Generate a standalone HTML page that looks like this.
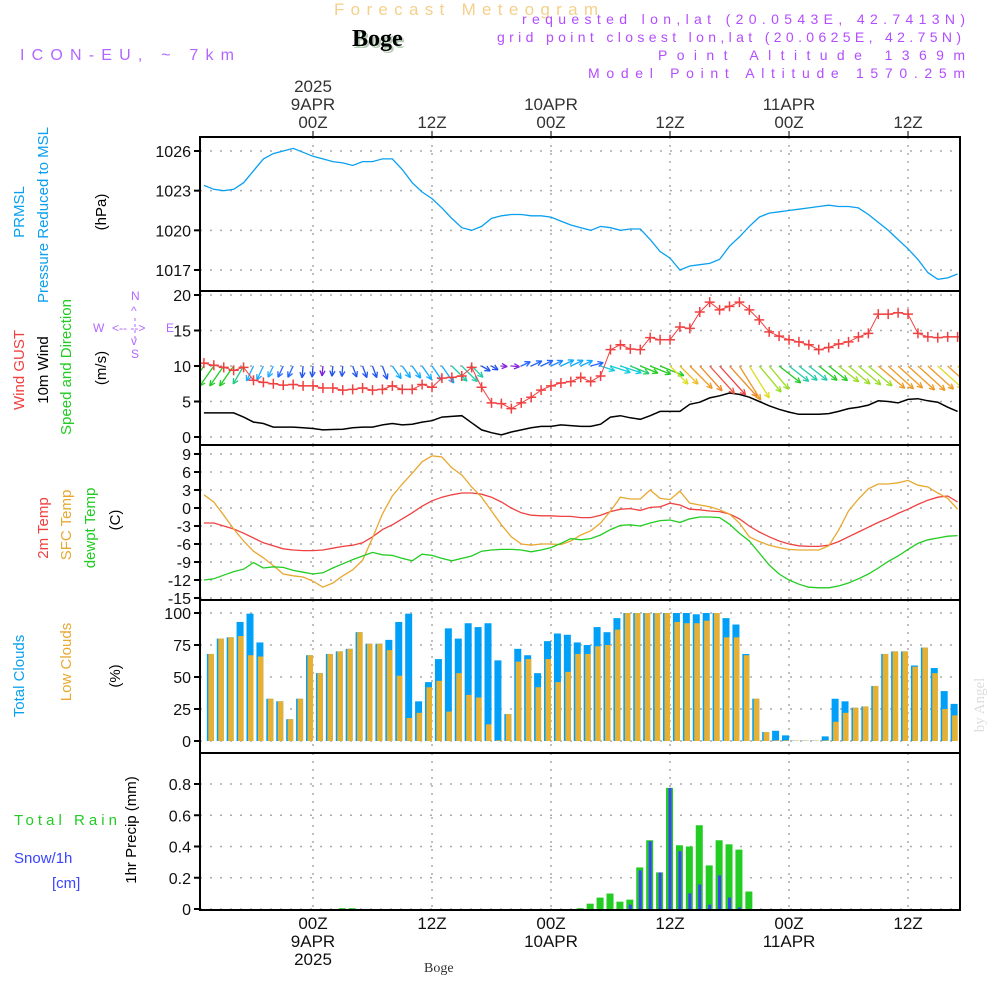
<!DOCTYPE html>
<html><head><meta charset="utf-8"><style>
html,body{margin:0;padding:0;background:#fff;}
svg{display:block;font-family:"Liberation Sans",sans-serif;}
</style></head><body>
<svg id="chart" width="1000" height="1000" viewBox="0 0 1000 1000" xmlns="http://www.w3.org/2000/svg">
<defs><clipPath id="plotclip"><rect x="200" y="137" width="760" height="773"/></clipPath></defs>
<g id="header">
<text x="334" y="15" font-size="17" fill="#f5d08a" textLength="264">Forecast Meteogram</text>
<text x="354" y="48" font-size="24" font-weight="bold" font-family="Liberation Serif,serif" fill="#b8cdb8">Boge</text>
<text x="352" y="46" font-size="24" font-weight="bold" font-family="Liberation Serif,serif" fill="#000">Boge</text>
<text x="20" y="60" font-size="16" fill="#b266ff" textLength="214">ICON-EU, ~ 7km</text>
<text x="522" y="24" font-size="14" fill="#b34dff" textLength="443">requested lon,lat (20.0543E, 42.7413N)</text>
<text x="497" y="42" font-size="14" fill="#b34dff" textLength="464">grid point closest lon,lat (20.0625E, 42.75N)</text>
<text x="658" y="60" font-size="14" fill="#b34dff" textLength="307">Point Altitude 1369m</text>
<text x="588" y="78" font-size="14" fill="#b34dff" textLength="377">Model Point Altitude 1570.25m</text>
</g>
<g id="grid"></g>
<g id="marks" clip-path="url(#plotclip)"></g>
<g id="frames"></g>
<g id="labels"></g>
</svg>
<script>
// ---- data (hourly, hours relative to 00Z 9 APR) ----
const hours = [];
for (let h = -11; h <= 65; h++) hours.push(h);
const pressure = [1023.4,1023.1,1023.0,1023.1,1023.6,1024.5,1025.4,1025.8,1026.0,1026.2,1025.9,1025.6,1025.4,1025.2,1025.1,1024.9,1025.2,1025.2,1025.4,1025.4,1024.6,1023.6,1022.9,1022.4,1021.7,1020.9,1020.2,1020.0,1020.3,1020.9,1021.1,1021.2,1021.2,1021.1,1021.1,1021.0,1020.7,1020.4,1020.2,1020.0,1020.3,1020.2,1020.0,1020.1,1020.1,1019.3,1018.4,1017.9,1017.0,1017.3,1017.4,1017.5,1017.8,1018.8,1019.5,1020.3,1021.0,1021.3,1021.4,1021.5,1021.6,1021.7,1021.8,1021.9,1021.8,1021.8,1021.7,1021.2,1020.6,1020.0,1019.3,1018.6,1017.8,1016.8,1016.3,1016.4,1016.7];
const gust = [10.4,10.1,9.8,9.4,9.8,8.0,7.7,7.5,7.3,7.4,7.2,7.2,6.9,6.9,6.6,6.7,6.9,6.6,6.7,7.2,6.7,6.7,7.4,7.0,8.3,8.4,8.6,9.8,7.0,4.8,4.7,4.0,4.8,5.6,6.6,7.2,7.6,7.8,8.4,7.8,8.6,12.3,13.0,12.4,12.3,14.0,13.7,13.7,15.5,15.3,17.6,19.0,17.9,18.4,19.0,17.9,16.5,14.8,14.2,13.7,13.4,13.0,12.3,12.6,13.1,13.4,14.1,14.6,17.3,17.3,17.5,17.3,14.6,14.1,14.0,14.1,14.1];
const wind = [3.4,3.4,3.4,3.4,2.8,2.1,1.9,1.4,1.4,1.4,1.3,1.2,1.0,1.05,1.1,1.3,1.4,1.4,1.7,1.9,1.7,1.8,2.1,2.3,2.8,2.9,3.0,2.0,1.0,0.6,0.3,0.7,1.0,1.3,1.5,1.5,1.7,1.6,1.5,1.5,1.8,2.8,3.0,2.7,2.5,3.0,3.6,3.6,3.6,4.6,4.9,5.5,5.8,6.2,6.0,5.6,5.0,4.4,3.9,3.5,3.2,3.2,3.2,3.3,3.6,4.0,4.2,4.5,5.1,5.0,4.8,5.3,5.4,5.1,4.9,4.2,3.6];
const windDir = [125,125,125,125,120,115,115,115,115,115,95,95,95,95,95,70,70,70,70,55,55,55,55,55,55,45,45,45,30,30,5,5,-25,-25,-25,-25,-25,-25,-25,-15,18,18,18,22,22,22,22,45,45,45,48,48,48,48,58,58,50,50,38,38,38,38,38,38,38,40,40,40,40,42,42,42,42,42,42,42,42];
const t2m = [-2.5,-2.5,-3,-3.5,-4.2,-5,-5.8,-6.3,-6.8,-7,-7.1,-7.1,-7,-6.7,-6.4,-6.2,-5.8,-4.8,-3.6,-2.8,-1.8,-0.8,0.3,1.2,1.8,2.2,2.5,2.5,2.3,1.8,1.0,0,-0.8,-1.2,-1.3,-1.3,-1.4,-1.4,-1.6,-1.6,-1.2,-0.6,-0.2,-0.1,-0.4,0.1,0.2,0.8,0.5,-0.2,-0.3,-0.5,-0.6,-1.0,-1.8,-3.0,-4.0,-4.8,-5.5,-6.0,-6.3,-6.4,-6.4,-6.2,-5.6,-4.8,-4.0,-3.2,-2.4,-1.7,-0.9,-0.2,0.6,1.3,1.8,2.0,1.0];
const tsfc = [2.2,1.0,-1.2,-3.5,-5.5,-7.2,-8.3,-9.6,-11,-11.3,-11.5,-12.2,-13.2,-12.5,-11.3,-10.3,-8.7,-5,-1,2,4,5.8,7.7,8.7,8.5,6.7,5.5,3.5,1.8,-0.5,-2.8,-4.8,-6,-6.2,-6.0,-6.0,-6.1,-5.5,-4.5,-3.8,-2.5,-0.5,1.8,1.5,1.5,3.0,1.6,1.4,2.8,0.8,0.5,0.2,-0.3,-1,-2.5,-4.8,-5.6,-6.2,-6.6,-6.9,-7,-7,-7,-6.3,-3.7,-0.5,1.5,3.2,4.0,4.0,4.2,4.6,3.8,3.5,2.5,1.6,-0.2];
const tdew = [-12,-11.8,-11.2,-10.6,-10.2,-9.1,-10,-9.8,-9.9,-10.4,-10.7,-11,-10.8,-10.0,-9.3,-8.6,-8,-7.4,-7.8,-7.9,-8.4,-8.8,-7.7,-7.9,-8.4,-8.8,-8.4,-8.0,-7.2,-7.0,-6.9,-6.9,-7.0,-7.3,-7.0,-6.6,-5.9,-5.1,-5.3,-5.1,-4.5,-3.6,-2.9,-2.8,-3.0,-2.5,-2.1,-2.0,-2.4,-1.8,-1.5,-1.5,-1.6,-2.7,-4.2,-5.5,-7.5,-9.5,-11,-12,-12.7,-13.2,-13.3,-13.3,-13.0,-12.5,-11.8,-11,-10,-8.9,-8,-6.9,-5.9,-5.3,-5.0,-4.7,-4.6];
const cloudTotal = [67,68,80,81,93,99.5,77,33,31,17,33,67,53,68,70,72,85,76,76,79,93,99.5,31,46,64,88,80,92,89,92,63,21,72,67,53,78,84,83,77,75,89,85,96,100,100,100,100,100,100,100,99,100,100,96,91,68,33,7,8,4.4,0.3,0.3,0.3,3.6,33,31,26,27,43,68,70,70,59,73,57,39,29];
const cloudLow = [67,68,80,81,82,67,66,33,31,17,33,67,53,68,70,72,85,76,76,71,51,18,22,42,47,23,53,36,34,13,0.5,21,62,64,42,64,46,54,68,68,74,75,87,100,100,100,100,100,93,92,92,94,100,81,81,67,33,7,0.5,0.5,0.3,0.3,0.3,0.5,15,22,26,27,43,68,70,70,58,73,53,25,20];
const precipRain = [0,0,0,0,0,0,0,0,0,0,0,0,0,0,0.005,0.005,0,0,0,0,0,0,0,0,0,0,0,0,0,0,0,0,0,0,0,0,0,0,0.005,0.034,0.073,0.099,0.047,0.06,0.266,0.44,0.234,0.775,0.408,0.40,0.536,0.279,0.44,0.414,0.38,0.112,0,0,0,0,0,0,0,0,0,0,0,0,0,0,0,0,0,0,0,0,0];
const precipSnow = [0,0,0,0,0,0,0,0,0,0,0,0,0,0,0,0,0,0,0,0,0,0,0,0,0,0,0,0,0,0,0,0,0,0,0,0,0,0,0,0,0,0,0,0.028,0.247,0.434,0.234,0.775,0.37,0.1,0.157,0.028,0.215,0.073,0.01,0,0,0,0,0,0,0,0,0,0,0,0,0,0,0,0,0,0,0,0,0,0];
const pressureTicks = [1026,1023,1020,1017];
const windTicks = [20,15,10,5,0];
const tempTicks = [9,6,3,0,-3,-6,-9,-12,-15];
const cloudTicks = [100,75,50,25,0];
const precipTicks = [0.8,0.6,0.4,0.2,0];
const majorHours = [0,12,24,36,48,60];
const majorLabels = ['00Z','12Z','00Z','12Z','00Z','12Z'];
const dayLabels = {0:['9APR','2025'],24:['10APR'],48:['11APR']};
// arrow colors (style)
const arrowColors = ['#22cc22','#22cc22','#22cc22','#22cc22','#22cc88','#22aaff','#22aaff','#22aaff','#2266ff','#2266ff','#2255ee','#2255ee','#7722dd','#2255ee','#2255ee','#2255ee','#2255ee','#2255ee','#2255ee','#11aaff','#11aaff','#11aaff','#11aaff','#11aaff','#11aaff','#22ccaa','#22ccaa','#22ccaa','#2255ee','#2255ee','#8822dd','#8822dd','#2266ff','#2266ff','#2266ff','#2288ff','#11aaff','#11aaff','#11aaff','#2266ff','#11ccdd','#11ccdd','#11ccdd','#22cc66','#22cc22','#22cc22','#22cc22','#dddd22','#eebb22','#ee9922','#ee8822','#ee5544','#ee4444','#ee8822','#ee9922','#dddd22','#99dd22','#99dd22','#22cc22','#22ccaa','#22ccaa','#22ccaa','#22cc22','#22cc22','#99dd22','#99dd22','#99dd22','#99dd22','#ee9922','#ee9922','#ee9922','#ee9922','#ee9922','#ee9922','#dddd22','#ee9922','#dddd22'];

// ---- layout ----
const NS = 'http://www.w3.org/2000/svg';
const X0 = 200, X1 = 960;
const xh = h => 313 + h * 9.917;
function lin(v0, y0, v1, y1) { return v => y0 + (v - v0) * (y1 - y0) / (v1 - v0); }
const yP = lin(1026, 151, 1017, 270);
const yW = lin(20, 295, 0, 437);
const yT = lin(9, 454, -12, 580);
const yC = lin(100, 613, 0, 741);
const yR = lin(0.8, 784, 0, 909);
const panels = [[137,291],[291,445],[445,600],[600,753],[753,910]];
function mk(tag, attrs, parent) {
  const e = document.createElementNS(NS, tag);
  for (const k in attrs) e.setAttribute(k, attrs[k]);
  parent.appendChild(e); return e;
}
const gGrid = document.getElementById('grid'), gMarks = document.getElementById('marks');
const gFrames = document.getElementById('frames'), gLab = document.getElementById('labels');

majorHours.forEach(h => {
  panels.forEach(p => {
    const l = mk('line', {x1: xh(h), x2: xh(h), y1: p[0], y2: p[1], stroke: '#aaa', 'stroke-width': 1.5, 'stroke-dasharray': '2,6'}, gGrid);
    
    
  });
});
function yAxis(ticks, f, fmt) {
  ticks.forEach(t => {
    const y = f(t);
    const l = mk('line', {x1: X0, x2: X1, y1: y, y2: y, stroke: '#aaa', 'stroke-width': 1.5, 'stroke-dasharray': '2,8'}, gGrid);
    
    
    const tk = mk('line', {x1: X0 - 6, x2: X0, y1: y, y2: y, stroke: '#000', 'stroke-width': 2}, gFrames);
    
    
    const tx = mk('text', {x: X0 - 9, y: y + 6, 'text-anchor': 'end', 'font-size': 16, fill: '#111'}, gLab);
    tx.textContent = fmt ? fmt(t) : String(t);
    
    
  });
}
yAxis(pressureTicks, yP);
yAxis(windTicks, yW);
yAxis(tempTicks, yT);
yAxis(cloudTicks, yC);
yAxis(precipTicks, yR, t => t === 0 ? '0' : String(t));

function polyline(vals, f, color, name, w) {
  const pts = vals.map((v, i) => xh(hours[i]).toFixed(1) + ',' + f(v).toFixed(1)).join(' ');
  const p = mk('polyline', {points: pts, fill: 'none', stroke: color, 'stroke-width': w || 1.3}, gMarks);
  
  
}
polyline(pressure, yP, '#0aa0f0', 'pressure-line');
cloudTotal.forEach((v, i) => {
  const x = xh(hours[i]);
  if (x - 7 < X0 - 1 || x > X1) return;
  const b = mk('rect', {x: x - 7, y: yC(v), width: 7, height: yC(0) - yC(v), fill: '#00a0f8'}, gMarks);
  
  
  const lv = cloudLow[i];
  const o = mk('rect', {x: x - 5.5, y: yC(lv), width: 5.5, height: yC(0) - yC(lv), fill: '#e8b030'}, gMarks);
  
  
});
precipRain.forEach((v, i) => {
  const x = xh(hours[i]);
  if (v > 0) {
    const b = mk('rect', {x: x - 4, y: yR(v), width: 7, height: yR(0) - yR(v), fill: '#22cc22'}, gMarks);
    
    
  }
  const s = precipSnow[i];
  if (s > 0) {
    const sb = mk('rect', {x: x - 1.5, y: yR(s), width: 3, height: yR(0) - yR(s), fill: '#3a44ff'}, gMarks);
    
    
  }
});
polyline(t2m, yT, '#f04040', 't2m-line');
polyline(tsfc, yT, '#e8a830', 'sfc-temp-line');
polyline(tdew, yT, '#22cc22', 'dewpoint-line');
polyline(wind, yW, '#000', 'wind-speed-line', 1.5);
wind.forEach((v, i) => {
  const x = xh(hours[i]), y = yW(10);
  const a = windDir[i] * Math.PI / 180, L = 4 + 6 * v;
  const x2 = x + L * Math.cos(a), y2 = y + L * Math.sin(a);
  const c = arrowColors[i];
  const g = mk('g', {stroke: c, 'stroke-width': 1.3, fill: 'none'}, gMarks);
  
  
  mk('line', {x1: x, y1: y, x2: x2, y2: y2}, g);
  const hl = 6;
  [a + Math.PI - 0.45, a + Math.PI + 0.45].forEach(b => mk('line', {x1: x2, y1: y2, x2: x2 + hl * Math.cos(b), y2: y2 + hl * Math.sin(b)}, g));
});
polyline(gust, yW, '#f04040', 'gust-line', 1);
gust.forEach((v, i) => {
  const x = xh(hours[i]), y = yW(v);
  const p = mk('path', {d: `M${x-5},${y}H${x+5}M${x},${y-5}V${y+5}`, stroke: '#f04040', 'stroke-width': 1.5}, gMarks);
  
  
});
panels.forEach(p => {
  const r = mk('rect', {x: X0, y: p[0], width: X1 - X0, height: p[1] - p[0], fill: 'none', stroke: '#000', 'stroke-width': 2}, gFrames);
  
  
});
majorHours.forEach((h, k) => {
  const x = xh(h);
  const t1 = mk('line', {x1: x, x2: x, y1: 131, y2: 137, stroke: '#000'}, gFrames);
  
  
  const top = [majorLabels[k]].concat(dayLabels[h] ? dayLabels[h].slice(0,1) : []).concat(dayLabels[h] && dayLabels[h][1] ? [dayLabels[h][1]] : []);
  top.forEach((s, j) => {
    const t = mk('text', {x: x, y: 128 - j * 18, 'text-anchor': 'middle', 'font-size': 17, fill: '#333'}, gLab);
    t.textContent = s;
    
    
  });
  top.forEach((s, j) => {
    const t = mk('text', {x: x, y: 929 + j * 18, 'text-anchor': 'middle', 'font-size': 17, fill: '#111'}, gLab);
    t.textContent = s;
    
    
  });
});
</script>
<svg width="1000" height="1000" style="position:absolute;left:0;top:0" xmlns="http://www.w3.org/2000/svg">
<g font-family="Liberation Sans,sans-serif" font-size="15">
<text transform="translate(24,212) rotate(-90)" text-anchor="middle" fill="#0aa0f0">PRMSL</text>
<text transform="translate(48,215) rotate(-90)" text-anchor="middle" fill="#0aa0f0">Pressure Reduced to MSL</text>
<text transform="translate(106,212) rotate(-90)" text-anchor="middle" fill="#000">(hPa)</text>
<text transform="translate(24,370) rotate(-90)" text-anchor="middle" fill="#f04040">Wind GUST</text>
<text transform="translate(48,370) rotate(-90)" text-anchor="middle" fill="#000">10m Wind</text>
<text transform="translate(71,367) rotate(-90)" text-anchor="middle" fill="#22cc22">Speed and Direction</text>
<text transform="translate(106,368) rotate(-90)" text-anchor="middle" fill="#000">(m/s)</text>
<text transform="translate(48,528) rotate(-90)" text-anchor="middle" fill="#f04040">2m Temp</text>
<text transform="translate(71,525) rotate(-90)" text-anchor="middle" fill="#e8a830">SFC Temp</text>
<text transform="translate(95,528) rotate(-90)" text-anchor="middle" fill="#22cc22">dewpt Temp</text>
<text transform="translate(120,520) rotate(-90)" text-anchor="middle" fill="#000">(C)</text>
<text transform="translate(24,676) rotate(-90)" text-anchor="middle" fill="#0aa0f0">Total Clouds</text>
<text transform="translate(71,662) rotate(-90)" text-anchor="middle" fill="#e8a830">Low Clouds</text>
<text transform="translate(120,676) rotate(-90)" text-anchor="middle" fill="#000">(%)</text>
<text x="14" y="825" fill="#22cc22" textLength="103">Total  Rain</text>
<text x="14" y="863" fill="#3a44ff">Snow/1h</text>
<text x="52" y="888" fill="#3a44ff">[cm]</text>
<text transform="translate(136,830) rotate(-90)" text-anchor="middle" fill="#000">1hr Precip (mm)</text>
</g>
<g fill="#b266ff" font-size="12" font-family="Liberation Sans,sans-serif">
<text x="93" y="332">W</text><text x="112" y="332">&lt;-- --&gt;</text><text x="166" y="332">E</text>
<text x="131" y="300">N</text><text x="131" y="315">^</text><text x="131" y="345">v</text><text x="131" y="358">S</text>
<line x1="135" y1="318" x2="135" y2="340" stroke="#b266ff" stroke-dasharray="3,3"/>
</g>
<text x="424" y="972" font-size="14" font-family="Liberation Serif,serif" fill="#333">Boge</text>
<text transform="translate(984,705) rotate(-90)" text-anchor="middle" font-size="15" font-family="Liberation Serif,serif" fill="#ddd">by Angel</text>
</svg>
</body></html>
